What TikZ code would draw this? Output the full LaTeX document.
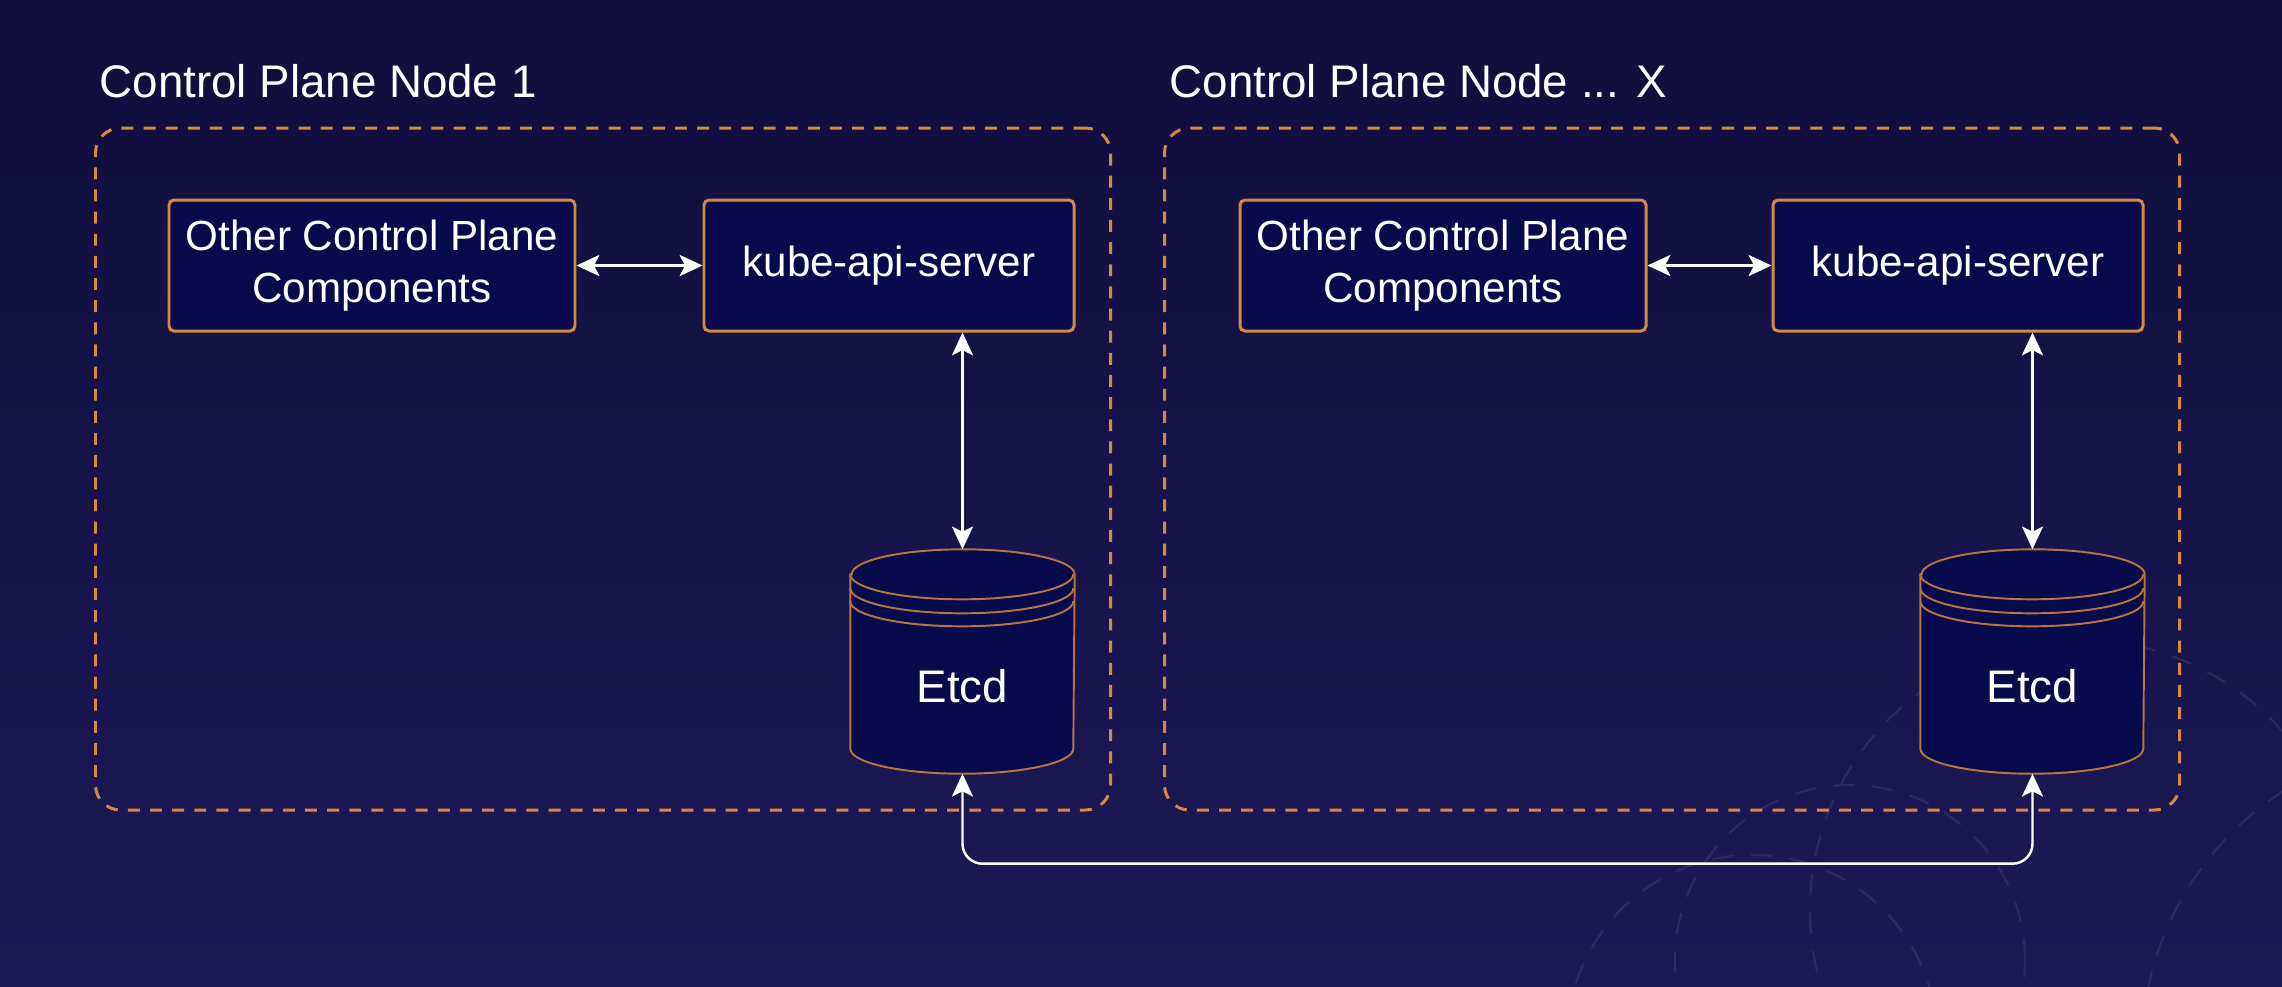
\documentclass[tikz,border=0pt]{standalone}
\usepackage{fontspec}
\setmainfont{Liberation Sans}
\usetikzlibrary{arrows.meta,positioning,calc}
\definecolor{bgtop}{HTML}{110E3D}
\definecolor{bgbot}{HTML}{1C1956}
\definecolor{boxfill}{HTML}{070B4B}
\definecolor{kborder}{HTML}{D68940}
\definecolor{dborder}{HTML}{B97540}
\pgfdeclarelayer{back}
\pgfdeclarelayer{mid}
\pgfsetlayers{back,mid,main}

\begin{document}
\begin{tikzpicture}[
  frame/.style={draw=kborder, dash pattern=on 3.4pt off 2.9pt, line width=0.85pt, rounded corners=0.25cm, minimum width=10.15cm, minimum height=6.82cm, inner sep=0pt},
  comp/.style={draw=kborder, line width=0.85pt, fill=boxfill, rounded corners=0.05cm, minimum height=1.31cm, align=center, text=white, font=\fontsize{12}{15}\selectfont, inner sep=0pt},
  etcd/.style={minimum width=2.23cm, minimum height=1.73cm, inner sep=0pt, text=white, font=\fontsize{13}{15}\selectfont},
  title/.style={anchor=base west, text=white, font=\fontsize{13}{15}\selectfont, inner sep=0pt},
  link/.style={draw=white, line width=0.7pt, <->},
  drum/.style={draw=dborder, line width=0.55pt},
  ring/.style={draw=white, opacity=0.08, line width=0.6pt, dash pattern=on 6pt off 5pt},
  >={Stealth[length=6.5pt,width=6pt,inset=1.5pt]}
]
  \useasboundingbox (0,0) rectangle (22.82,-9.86);

  % Background
  \begin{pgfonlayer}{back}
    \shade[top color=bgtop, bottom color=bgbot] (0,0) rectangle (22.82,-9.86);
    \begin{scope}
      \clip (0,0) rectangle (22.82,-9.86);
      \draw[ring] (18.5,-9.6) circle (1.75);
      \draw[ring] (17.52,-10.4) circle (1.85);
      \draw[ring] (20.8,-9.1) circle (2.7);
      \draw[ring] (24.5,-10.5) circle (3.08);
    \end{scope}
  \end{pgfonlayer}

  % Control plane nodes
  \node[frame] (frameA) at (6.03,-4.69) {};
  \node[frame] (frameB) at (16.72,-4.69) {};
  \node[title] (titleA) at (0.99,-0.97) {Control Plane Node 1};
  \node[title] (titleB) at (11.69,-0.97) {Control Plane Node ... X};

  % Node 1
  \node[comp, minimum width=4.06cm] (otherA) at (3.72,-2.655) {Other Control Plane\\Components};
  \node[comp, minimum width=3.70cm] (kubeA) at (8.89,-2.655) {kube-api-server};
  \node[etcd] (etcdA) at (9.625,-6.865) {Etcd};

  % Node X
  \node[comp, minimum width=4.06cm] (otherB) at (14.43,-2.655) {Other Control Plane\\Components};
  \node[comp, minimum width=3.70cm] (kubeB) at (19.58,-2.655) {kube-api-server};
  \node[etcd] (etcdB) at (20.325,-6.865) {Etcd};

  % Etcd drums
  \begin{pgfonlayer}{mid}
    \foreach \e in {etcdA,etcdB}{
      \path[drum, fill=boxfill] ([yshift=0.25cm]\e.north west) -- ([yshift=0.25cm]\e.south west)
        arc[start angle=180, end angle=360, x radius=1.115cm, y radius=0.25cm]
        -- ([yshift=0.25cm]\e.north east)
        arc[start angle=0, end angle=180, x radius=1.115cm, y radius=0.25cm] -- cycle;
      \draw[drum] ([yshift=0.25cm]\e.north west) arc[start angle=180, end angle=360, x radius=1.115cm, y radius=0.25cm];
      \draw[drum] ([yshift=0.11cm]\e.north west) arc[start angle=180, end angle=360, x radius=1.115cm, y radius=0.25cm];
      \draw[drum] ([yshift=-0.02cm]\e.north west) arc[start angle=180, end angle=360, x radius=1.115cm, y radius=0.25cm];
    }
  \end{pgfonlayer}

  % Arrows
  \draw[link] (otherA) -- (kubeA);
  \draw[link] (otherB) -- (kubeB);
  \draw[link] (kubeA.south -| etcdA.north) -- ([yshift=0.5cm]etcdA.north);
  \draw[link] (kubeB.south -| etcdB.north) -- ([yshift=0.5cm]etcdB.north);
  \draw[link, rounded corners=0.2cm] (etcdA.south) -- ++(0,-0.9) -| (etcdB.south);
\end{tikzpicture}
\end{document}
